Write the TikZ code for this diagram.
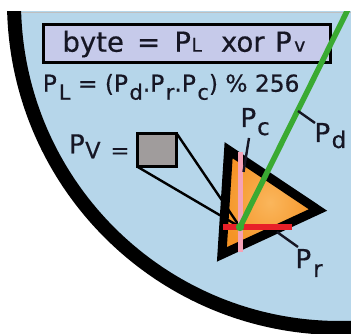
\documentclass[tikz,border=0pt]{standalone}
\usepackage{fontspec}
\setmainfont{DejaVu Sans}[BoldFont={DejaVu Sans},BoldFeatures={FakeBold=0.5}]
\definecolor{bgblue}{RGB}{182,214,234}
\definecolor{boxfill}{RGB}{198,202,234}
\definecolor{txt}{RGB}{22,22,36}
\definecolor{grn}{RGB}{58,170,50}
\definecolor{redl}{RGB}{232,32,40}
\definecolor{pinkl}{RGB}{245,162,182}
\definecolor{orng}{RGB}{245,148,38}
\definecolor{orngl}{RGB}{250,182,92}
\definecolor{sqgray}{RGB}{160,156,156}
\newcommand\mysub[4]{\kern#1pt\raisebox{-#2pt}{\fontsize{#3}{#3}\selectfont #4}}
\tikzset{
  txtnode/.style={anchor=base west, inner sep=0pt, outer sep=0pt, text=txt},
  tick/.style={line width=2.4pt, txt},
  conn/.style={line width=2.4pt, black}
}
\begin{document}
\begin{tikzpicture}[x=1pt,y=-1pt]
\useasboundingbox (0,0) rectangle (351,334);
% background disc
\begin{scope}
  \clip (0,12) rectangle (351,334);
  \fill[bgblue] (340,2) circle (326pt);
\end{scope}
\draw[black!25, line width=0.6pt] (9,12.3) -- (351,12.3);
\begin{scope}
  \clip (0,12) rectangle (351,340);
  \draw[black, line width=14pt] (340,2) circle (326pt);
\end{scope}
% formula box
\node[draw=black, line width=3.2pt, fill=boxfill, minimum width=287.2pt, minimum height=38pt,
      inner sep=0pt, outer sep=0pt, anchor=north west] (box) at (43.3,24.3) {};
\node[txtnode, font=\fontsize{27.5}{27.5}\selectfont\bfseries] (eq1) at (62.5,51.7)
  {byte\hspace{13.2pt}=\hspace{14.2pt}P\kern0.5pt{\fontsize{19}{19}\selectfont L}\hspace{19pt}xor\hspace{10.5pt}P\kern2.5pt{\fontsize{19}{19}\selectfont v}};
\node[txtnode, font=\fontsize{23.3}{23.3}\selectfont\bfseries] (eq2) at (42.8,91.7)
  {P\mysub{2}{8}{21}{L} = (P\mysub{1.5}{8}{21}{d}.P\mysub{1.5}{8}{21}{r}.P\mysub{1.5}{8}{21}{c}) \% 256};
% Pv label and square
\node[txtnode, font=\fontsize{26}{26}\selectfont\bfseries] (pvl) at (69,153.3)
  {P\mysub{0.5}{5}{22.5}{V\hspace{10pt}=}};
\node[draw=black, line width=3pt, fill=sqgray, minimum width=39pt, minimum height=33.6pt,
      inner sep=0pt, outer sep=0pt] (sq) at (157,150) {};
% triangle
\coordinate (tA) at (228.6,150.2);
\coordinate (tB) at (318,210);
\coordinate (tC) at (221.9,254.4);
\coordinate (piv) at (240,227);
\shade[inner color=orngl, outer color=orng] (tA) -- (tB) -- (tC) -- cycle;
\draw[black, line width=9pt, line join=miter] (tA) -- (tB) -- (tC) -- cycle;
% connectors from square
\draw[conn] (sq.north east) -- (piv);
\draw[conn] (sq.south west) -- (piv);
% axes
\coordinate (rL) at (223,227);
\coordinate (rR) at (292,227);
\coordinate (pT) at (240,152);
\coordinate (pB) at (240,252);
\draw[redl, line width=6pt] (rL) -- (rR);
\draw[pinkl, line width=5pt] (pT) -- (pB);
\begin{scope}
  \clip (0,12) rectangle (351,334);
  \coordinate (gEnd) at (355.6,-6);
  \draw[grn, line width=5.5pt] (piv) -- (gEnd);
\end{scope}
\fill[grn] (piv) circle (4.2pt);
% ticks and labels
\coordinate (tdA) at (298,111);
\coordinate (tdB) at (315,123);
\coordinate (tcA) at (249,138);
\coordinate (tcB) at (243.5,172);
\coordinate (trA) at (277,232);
\coordinate (trB) at (298,247);
\draw[tick] (tdA) -- (tdB);
\draw[tick] (tcA) -- (tcB);
\draw[tick] (trA) -- (trB);
\node[txtnode, font=\fontsize{26}{26}\selectfont\bfseries] (pdl) at (314.5,142) {P\mysub{1.5}{6}{23}{d}};
\node[txtnode, font=\fontsize{26}{26}\selectfont\bfseries] (pcl) at (240.5,127) {P\mysub{1}{8}{23}{c}};
\node[txtnode, font=\fontsize{26}{26}\selectfont\bfseries] (prl) at (295.5,268) {P\mysub{2}{9}{23}{r}};
\end{tikzpicture}
\end{document}
